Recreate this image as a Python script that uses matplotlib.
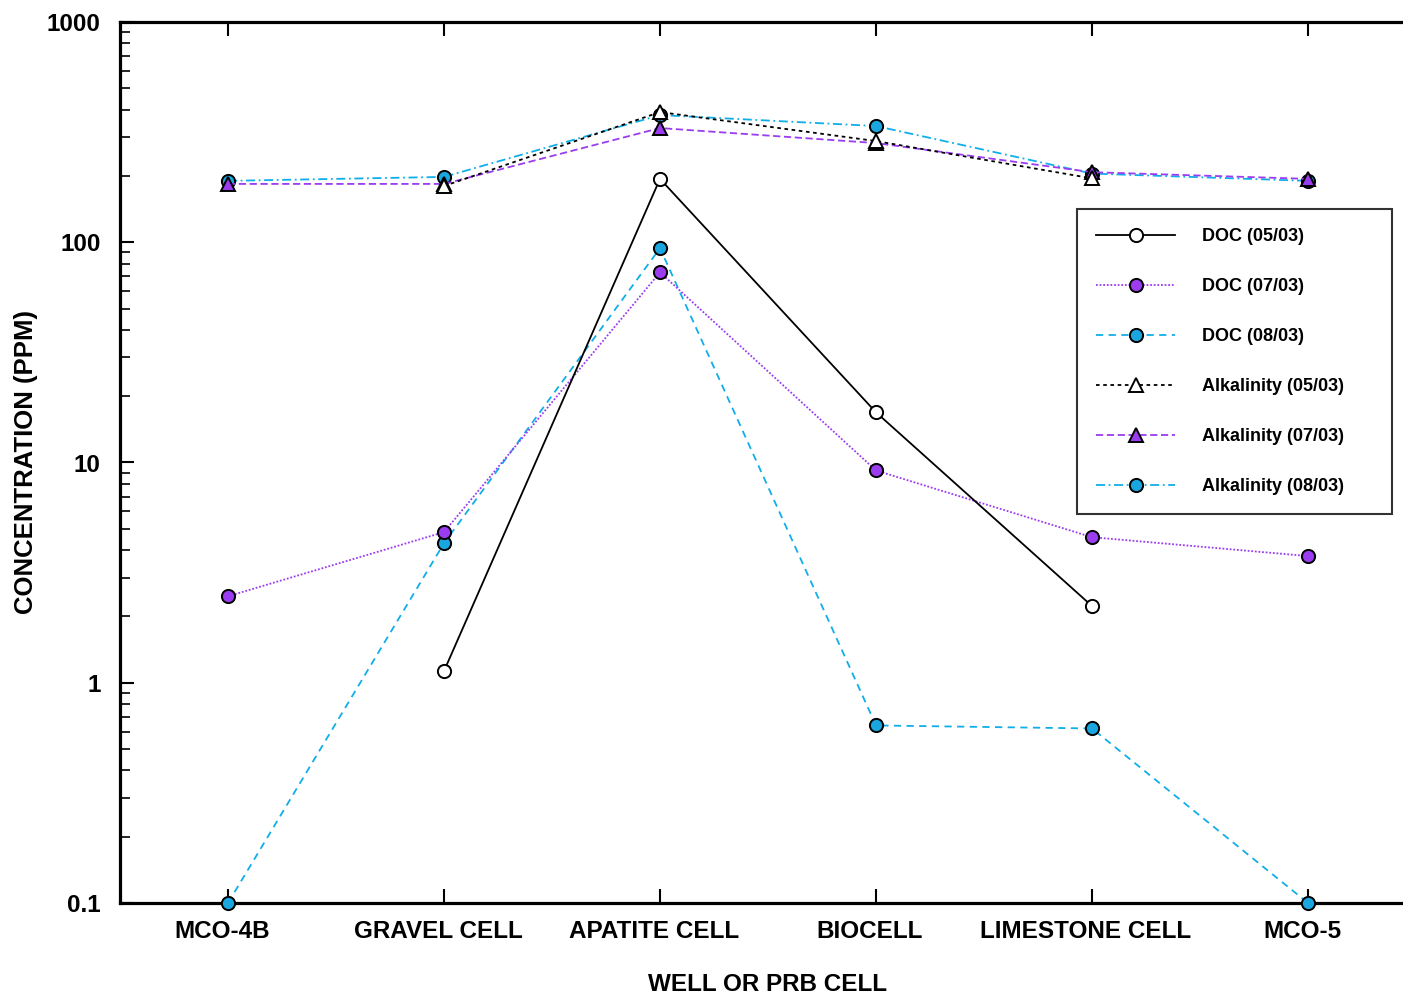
import matplotlib
matplotlib.use("Agg")
import matplotlib.pyplot as plt
import matplotlib.transforms as mtransforms
import numpy as np
from matplotlib.ticker import LogLocator, NullFormatter, FixedLocator, FixedFormatter

plt.rcParams["font.family"] = ["Liberation Sans", "DejaVu Sans"]
plt.rcParams["font.weight"] = "bold"

SITES = ["MCO-4B", "GRAVEL CELL", "APATITE CELL", "BIOCELL", "LIMESTONE CELL", "MCO-5"]

doc_0503 = [np.nan, 1.13, 194, 16.9, 2.23, np.nan]
doc_0703 = [2.47, 4.83, 73, 9.2, 4.58, 3.76]
doc_0803 = [0.1, 4.3, 94, 0.64, 0.62, 0.1]
alk_0503 = [np.nan, 180, 390, 288, 195, np.nan]
alk_0703 = [184, 184, 330, 282, 208, 194]
alk_0803 = [190, 198, 378, 337, 205, 190]

PURPLE = "#9B3CF0"
CYAN = "#10AEE8"
CYAN_FILL = "#1AA7DF"

SERIES = [
    ("DOC (05/03)", doc_0503, dict(color="black", linestyle="-", marker="o", mfc="white")),
    ("DOC (07/03)", doc_0703, dict(color=PURPLE, linestyle=(0, (1, 1)), marker="o", mfc=PURPLE)),
    ("DOC (08/03)", doc_0803, dict(color=CYAN, linestyle=(0, (4, 3)), marker="o", mfc=CYAN_FILL)),
    ("Alkalinity (05/03)", alk_0503, dict(color="black", linestyle=(0, (2, 2)), marker="^", mfc="white")),
    ("Alkalinity (07/03)", alk_0703, dict(color=PURPLE, linestyle=(0, (4, 2)), marker="^", mfc=PURPLE)),
    ("Alkalinity (08/03)", alk_0803, dict(color=CYAN, linestyle=(0, (5, 2, 1, 2)), marker="o", mfc=CYAN_FILL)),
]

fig = plt.figure(figsize=(14.03, 9.97), dpi=100)
ax = fig.add_axes([120 / 1403, 94 / 997, 1296 / 1403, 881 / 997])

x = np.arange(1, len(SITES) + 1)
for i, (label, vals, style) in enumerate(SERIES):
    v = np.array(vals, dtype=float)
    m = ~np.isnan(v)
    # later series sit underneath, like the original
    ax.plot(x[m], v[m], label=label, linewidth=1.3, markersize=9.5,
            markeredgecolor="black", markeredgewidth=1.4, clip_on=False,
            zorder=10 - i, **style)

ax.set_yscale("log")
ax.set_ylim(0.1, 1000)
ax.set_xlim(0.5, 6.5)
ax.yaxis.set_major_locator(FixedLocator([0.1, 1, 10, 100, 1000]))
ax.yaxis.set_major_formatter(FixedFormatter(["0.1", "1", "10", "100", "1000"]))
ax.yaxis.set_minor_locator(LogLocator(base=10, subs=np.arange(2, 10)))
ax.yaxis.set_minor_formatter(NullFormatter())
ax.set_xticks(x)
ax.set_xticklabels(SITES)

ax.tick_params(axis="both", which="major", direction="in", length=10, width=1.5,
               labelsize=17.5)
ax.tick_params(axis="x", which="major", pad=12)
ax.tick_params(axis="y", which="major", pad=14)
ax.tick_params(axis="y", which="minor", direction="in", length=7, width=1.2)
ax.tick_params(axis="x", top=True, bottom=True)
ax.tick_params(axis="y", right=False)
shift = mtransforms.ScaledTranslation(-6 / 100, 0, fig.dpi_scale_trans)
for lab in ax.get_xticklabels():
    lab.set_fontweight("bold")
    lab.set_transform(lab.get_transform() + shift)
for lab in ax.get_yticklabels():
    lab.set_fontweight("bold")

for side in ["left", "bottom", "top"]:
    ax.spines[side].set_linewidth(2.3)
ax.spines["right"].set_visible(False)

ax.set_xlabel("WELL OR PRB CELL", fontsize=17.5, fontweight="bold", labelpad=22)
ax.set_ylabel("CONCENTRATION (PPM)", fontsize=18.5, fontweight="bold", labelpad=6)

leg = ax.legend(loc="upper left", fontsize=13, frameon=True, fancybox=False,
                edgecolor="black", borderpad=1.05, labelspacing=1.83, handlelength=4.4,
                handletextpad=1.45, borderaxespad=0, mode="expand",
                bbox_to_anchor=(1077 / 1403, (997 - 516) / 997, 315 / 1403, 307 / 997),
                bbox_transform=fig.transFigure)
leg.get_frame().set_linewidth(1.5)
for t in leg.get_texts():
    t.set_fontweight("bold")

fig.savefig("out.png", dpi=100)
